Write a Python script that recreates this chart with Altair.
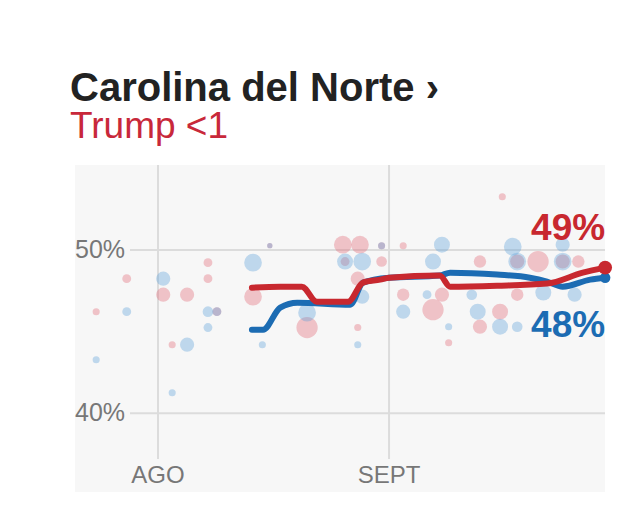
import altair as alt
import pandas as pd

# ---------------- data ----------------
# poll dots: days since 1 Aug 2016, share (%), sample size
trump_day = [-8.3, -4.2, 0.7, 3.9, 1.9, 6.7, 6.7, 7.9, 12.75, 15.0, 20.0, 24.8, 27.1, 25.1,
             26.8, 26.8, 30.0, 30.0, 32.9, 32.9, 36.9, 38.1, 43.2, 43.2, 46.2, 45.9, 48.2,
             48.2, 51.0, 54.3, 56.4, 39.0]
trump_pct = [46.22, 48.24, 47.26, 47.26, 44.2, 49.22, 48.24, 46.22, 47.14, 50.26, 45.25, 50.32,
             50.32, 49.29, 48.24, 45.25, 50.26, 49.29, 50.26, 47.26, 46.34, 47.26, 49.29, 45.3,
             53.26, 46.22, 49.29, 47.26, 49.29, 49.29, 49.29, 44.32]
trump_n = [320, 500, 1280, 1280, 320, 500, 500, 500, 2000, 180, 2880, 2000, 2000, 500,
           1280, 320, 320, 720, 320, 980, 2880, 1280, 980, 1280, 320, 1620, 1280,
           980, 2880, 1280, 980, 320]

clinton_day = [-8.3, -4.2, 0.7, 3.9, 1.9, 6.7, 6.7, 7.9, 12.75, 14.0, 15.0, 20.0, 25.1, 27.4,
               27.4, 26.8, 30.0, 32.9, 38.1, 36.9, 36.1, 42.9, 42.1, 45.9, 48.2, 47.6, 48.2,
               54.3, 54.3, 55.9, 51.7, 39.0]
clinton_pct = [43.28, 46.22, 48.24, 44.2, 41.26, 46.22, 45.25, 46.22, 49.22, 44.2, 50.26, 46.16,
               49.29, 49.29, 47.14, 44.2, 50.26, 46.22, 50.32, 49.29, 47.26, 46.22, 47.26, 45.3,
               45.3, 50.2, 49.29, 50.32, 49.29, 47.26, 47.39, 45.3]
clinton_n = [320, 500, 1280, 1280, 320, 720, 500, 500, 2000, 320, 180, 2000, 1620, 2000,
             1280, 320, 320, 1280, 1620, 1620, 500, 1620, 720, 1620, 720, 2000, 2000,
             1280, 2000, 1280, 1620, 320]

# trend lines
trump_trend_day = [12.6, 16.4, 19.3, 21.3, 25.5, 27.5, 29.8, 31.0, 37.8, 39.2, 45.5, 52.2, 57.0, 60.0]
trump_trend_pct = [47.69, 47.75, 47.75, 46.83, 46.83, 48.0, 48.18, 48.3, 48.43, 47.75, 47.81, 47.94, 48.61, 48.92]
clinton_trend_day = [12.6, 14.1, 16.4, 18.7, 25.8, 27.5, 31.0, 37.8, 39.2, 45.5, 49.9, 52.2, 54.3, 58.0, 60.0]
clinton_trend_pct = [45.12, 45.12, 46.47, 46.77, 46.65, 48.0, 48.3, 48.43, 48.61, 48.49, 48.3, 48.06, 47.75, 48.18, 48.3]

y_ticks = [40, 50]
y_tick_labels = ["40%", "50%"]
month_days = [0, 31]
month_labels = ["AGO", "SEPT"]
end_labels = ["49%", "48%"]

# ---------------- tables ----------------
dots = pd.concat([
    pd.DataFrame({"day": trump_day, "pct": trump_pct, "n": trump_n, "party": "Trump"}),
    pd.DataFrame({"day": clinton_day, "pct": clinton_pct, "n": clinton_n, "party": "Clinton"}),
], ignore_index=True)
trump_line = pd.DataFrame({"day": trump_trend_day, "pct": trump_trend_pct})
clinton_line = pd.DataFrame({"day": clinton_trend_day, "pct": clinton_trend_pct})
yt = pd.DataFrame({"v": y_ticks, "label": y_tick_labels})
mt = pd.DataFrame({"day": month_days, "label": month_labels})
trump_end = pd.DataFrame({"day": [trump_trend_day[-1]], "pct": [trump_trend_pct[-1]], "label": [end_labels[0]]})
clinton_end = pd.DataFrame({"day": [clinton_trend_day[-1]], "pct": [clinton_trend_pct[-1]], "label": [end_labels[1]]})

RED = "#c8282f"
BLUE = "#1c6cb3"
FONT = "Liberation Sans"

xs = alt.Scale(domain=[-11.14, 59.98], nice=False, zero=False)
ys = alt.Scale(domain=[35.18, 55.2], nice=False, zero=False)

def X(f):
    return alt.X(f, type="quantitative", scale=xs, axis=None)

def Y(f):
    return alt.Y(f, type="quantitative", scale=ys, axis=None)

hgrid = alt.Chart(yt).mark_rule(color="#dcdcdc", strokeWidth=2).encode(
    y=Y("v"), x=alt.value(55), x2=alt.value(530))
vgrid = alt.Chart(mt).mark_rule(color="#dcdcdc", strokeWidth=2).encode(
    x=X("day"), y=alt.value(0), y2=alt.value(294))
ylab = alt.Chart(yt).mark_text(align="left", baseline="middle", font=FONT, fontSize=25,
                               color="#777777").encode(x=alt.value(0), y=Y("v"), text="label:N")
xlab = alt.Chart(mt).mark_text(align="center", baseline="alphabetic", font=FONT, fontSize=24,
                               color="#777777").encode(x=X("day"), y=alt.value(318), text="label:N")

pts = alt.Chart(dots).mark_circle(opacity=0.37).encode(
    x=X("day"), y=Y("pct"),
    size=alt.Size("n:Q", scale=alt.Scale(domain=[0, 3000], range=[0, 470]), legend=None),
    color=alt.Color("party:N", scale=alt.Scale(domain=["Trump", "Clinton"],
                                               range=["#e06676", "#5d9fd8"]), legend=None),
)

bline = alt.Chart(clinton_line).mark_line(color=BLUE, strokeWidth=6, strokeCap="round",
                                          strokeJoin="round", interpolate="monotone").encode(
    x=X("day"), y=Y("pct"))
rline = alt.Chart(trump_line).mark_line(color=RED, strokeWidth=6, strokeCap="round",
                                        strokeJoin="round", interpolate="monotone").encode(
    x=X("day"), y=Y("pct"))
bend = alt.Chart(clinton_end).mark_circle(color=BLUE, opacity=1, size=110).encode(x=X("day"), y=Y("pct"))
rend = alt.Chart(trump_end).mark_circle(color=RED, opacity=1, size=190).encode(x=X("day"), y=Y("pct"))

rlab = alt.Chart(trump_end).mark_text(align="right", baseline="middle", dy=-39, font=FONT,
                                      fontSize=37, fontWeight="bold", color=RED).encode(
    x=X("day"), y=Y("pct"), text="label:N")
blab = alt.Chart(clinton_end).mark_text(align="right", baseline="middle", dy=48, font=FONT,
                                        fontSize=37, fontWeight="bold", color=BLUE).encode(
    x=X("day"), y=Y("pct"), text="label:N")

chart = alt.layer(hgrid, vgrid, ylab, xlab, pts, bline, rline, bend, rend, rlab, blab).properties(
    width=530, height=327,
    background="white",
    autosize=alt.AutoSizeParams(type="none"),
    padding={"left": 67, "top": 157, "right": 27, "bottom": 12},
    title=alt.TitleParams(
        text="Carolina del Norte ›", subtitle="Trump <1", anchor="start", dx=-5,
        font=FONT, fontSize=40, fontWeight="bold", color="#222222",
        subtitleFont=FONT, subtitleFontSize=37, subtitleColor="#c8283a",
        subtitlePadding=0, offset=19,
    ),
).configure_view(fill="#f7f7f7", stroke="transparent", strokeWidth=0)

chart.save("out.html", embed_options={"renderer": "svg", "actions": False})
